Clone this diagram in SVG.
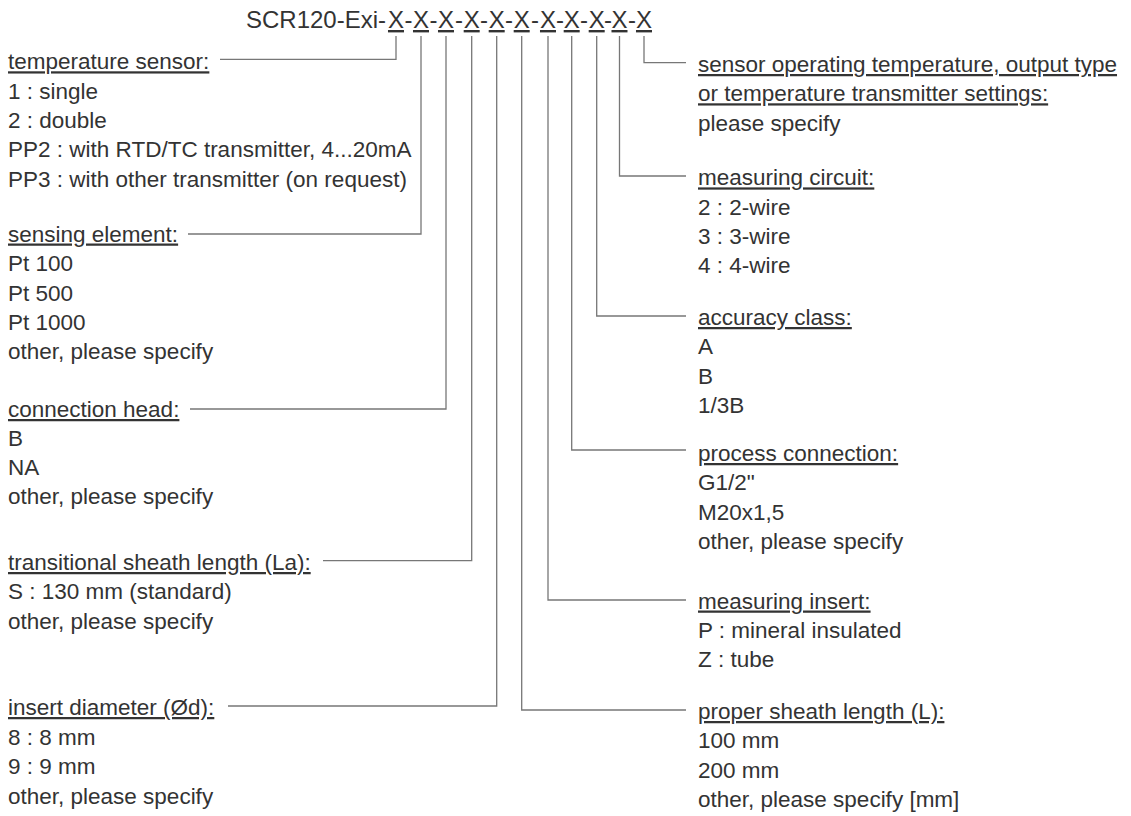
<svg xmlns="http://www.w3.org/2000/svg" width="1131" height="816" viewBox="0 0 1131 816">
<style>
text{font-family:"Liberation Sans",Arial,sans-serif;fill:#333;}
.t{font-size:24px;}
.x{font-size:24px;text-anchor:middle;text-decoration:underline;}
.d{font-size:24px;text-anchor:middle;}
.l{font-size:22.5px;}
.h{font-size:22.5px;text-decoration:underline;}
.c{fill:none;stroke:#777;stroke-width:1.3;}
</style>
<rect width="1131" height="816" fill="#fff"/>
<g id="title">
<text class="t" x="246" y="28">SCR120-Exi-</text>
<text class="x" x="396" y="28">X</text><text class="d" x="408.5" y="28">-</text>
<text class="x" x="421" y="28">X</text><text class="d" x="433.5" y="28">-</text>
<text class="x" x="446" y="28">X</text><text class="d" x="459" y="28">-</text>
<text class="x" x="471.7" y="28">X</text><text class="d" x="484" y="28">-</text>
<text class="x" x="496.7" y="28">X</text><text class="d" x="509" y="28">-</text>
<text class="x" x="521.7" y="28">X</text><text class="d" x="535" y="28">-</text>
<text class="x" x="548" y="28">X</text><text class="d" x="560" y="28">-</text>
<text class="x" x="571.7" y="28">X</text><text class="d" x="584" y="28">-</text>
<text class="x" x="596.7" y="28">X</text><text class="d" x="608" y="28">-</text>
<text class="x" x="619.5" y="28">X</text><text class="d" x="632" y="28">-</text>
<text class="x" x="644" y="28">X</text>
</g>
<g id="connectors">
<path class="c" d="M396 36V59.3H220"/>
<path class="c" d="M421 36V234H188"/>
<path class="c" d="M446 36V409H190"/>
<path class="c" d="M471.7 36V560.7H323"/>
<path class="c" d="M496.7 36V706H228"/>
<path class="c" d="M521.7 36V710H686"/>
<path class="c" d="M548 36V600H686"/>
<path class="c" d="M571.7 36V450H686"/>
<path class="c" d="M596.7 36V316H686"/>
<path class="c" d="M619.5 36V176H686"/>
<path class="c" d="M644 36V62.7H686"/>
</g>
<g id="temperature-sensor" transform="translate(0,2)">
<text class="h" x="8" y="67.3">temperature sensor:</text>
<text class="l" x="8" y="96.6">1 : single</text>
<text class="l" x="8" y="125.9">2 : double</text>
<text class="l" x="8" y="155.2">PP2 : with RTD/TC transmitter, 4...20mA</text>
<text class="l" x="8" y="184.5">PP3 : with other transmitter (on request)</text>
</g>
<g id="sensing-element" transform="translate(0,2)">
<text class="h" x="8" y="239.5">sensing element:</text>
<text class="l" x="8" y="269">Pt 100</text>
<text class="l" x="8" y="298.5">Pt 500</text>
<text class="l" x="8" y="328">Pt 1000</text>
<text class="l" x="8" y="357">other, please specify</text>
</g>
<g id="connection-head" transform="translate(0,2)">
<text class="h" x="8" y="415">connection head:</text>
<text class="l" x="8" y="444">B</text>
<text class="l" x="8" y="473">NA</text>
<text class="l" x="8" y="502">other, please specify</text>
</g>
<g id="transitional-sheath-length" transform="translate(0,1)">
<text class="h" x="8" y="569">transitional sheath length (La):</text>
<text class="l" x="8" y="598">S : 130 mm (standard)</text>
<text class="l" x="8" y="627.5">other, please specify</text>
</g>
<g id="insert-diameter" transform="translate(0,2)">
<text class="h" x="8" y="713">insert diameter (Ød):</text>
<text class="l" x="8" y="742.5">8 : 8 mm</text>
<text class="l" x="8" y="772">9 : 9 mm</text>
<text class="l" x="8" y="801.5">other, please specify</text>
</g>
<g id="sensor-operating-temperature" transform="translate(0,3)">
<text class="h" x="698" y="69">sensor operating temperature, output type</text>
<text class="h" x="698" y="98.3">or temperature transmitter settings:</text>
<text class="l" x="698" y="127.6">please specify</text>
</g>
<g id="measuring-circuit" transform="translate(0,3)">
<text class="h" x="698" y="182.4">measuring circuit:</text>
<text class="l" x="698" y="211.7">2 : 2-wire</text>
<text class="l" x="698" y="241">3 : 3-wire</text>
<text class="l" x="698" y="270.3">4 : 4-wire</text>
</g>
<g id="accuracy-class" transform="translate(0,3)">
<text class="h" x="698" y="322">accuracy class:</text>
<text class="l" x="698" y="351.3">A</text>
<text class="l" x="698" y="380.6">B</text>
<text class="l" x="698" y="410">1/3B</text>
</g>
<g id="process-connection" transform="translate(0,3)">
<text class="h" x="698" y="458">process connection:</text>
<text class="l" x="698" y="487.3">G1/2"</text>
<text class="l" x="698" y="516.6">M20x1,5</text>
<text class="l" x="698" y="546">other, please specify</text>
</g>
<g id="measuring-insert" transform="translate(0,2)">
<text class="h" x="698" y="606.5">measuring insert:</text>
<text class="l" x="698" y="635.8">P : mineral insulated</text>
<text class="l" x="698" y="665.1">Z : tube</text>
</g>
<g id="proper-sheath-length" transform="translate(0,2)">
<text class="h" x="698" y="717">proper sheath length (L):</text>
<text class="l" x="698" y="746.3">100 mm</text>
<text class="l" x="698" y="775.6">200 mm</text>
<text class="l" x="698" y="805">other, please specify [mm]</text>
</g>
</svg>
